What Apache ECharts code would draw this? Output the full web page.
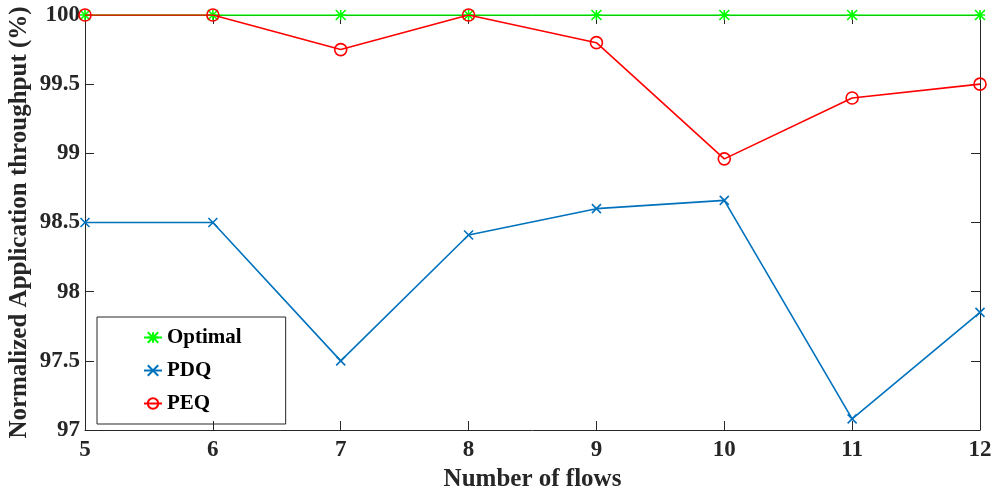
<!DOCTYPE html>
<html>
<head>
<meta charset="utf-8">
<script src="https://cdn.jsdelivr.net/npm/echarts@6/dist/echarts.min.js"></script>
<style>
html,body{margin:0;padding:0;background:#fff;}
#chart{width:995px;height:495px;}
</style>
</head>
<body>
<div id="chart"></div>
<script>
// Number of concurrent flows on the x axis
const flows = [5, 6, 7, 8, 9, 10, 11, 12];
// Normalized application throughput (%) per scheme
const optimal = [100, 100, 100, 100, 100, 100, 100, 100];
const pdq = [98.5, 98.5, 97.5, 98.41, 98.6, 98.66, 97.08, 97.85];
const peq = [100, 100, 99.75, 100, 99.8, 98.96, 99.4, 99.5];
const yTicks = [97, 97.5, 98, 98.5, 99, 99.5, 100];

const FONT = "'Liberation Serif', 'Times New Roman', serif";
const AXIS_COLOR = '#262626';

const pairs = vals => flows.map((f, i) => [f, vals[i]]);

const crossPath = 'path://M0,0L10,10M10,0L0,10';
const starPath = 'path://M0,0L10,10M10,0L0,10M5,0L5,10M0,5L10,5';

const chart = echarts.init(document.getElementById('chart'), null, {renderer: 'canvas'});

const strokeMarker = color => ({
  color: color,
  borderColor: color,
  borderWidth: 1.6
});

chart.setOption({
  animation: false,
  backgroundColor: '#fff',
  grid: {left: 85, right: 15, top: 15, bottom: 65, containLabel: false, outerBoundsMode: 'none'},
  legend: {
    orient: 'vertical',
    left: 97,
    top: 317,
    padding: [10, 44, 10, 46],
    itemGap: 12,
    itemWidth: 18,
    itemHeight: 13,
    borderColor: AXIS_COLOR,
    borderWidth: 1,
    textStyle: {fontFamily: FONT, fontWeight: 'bold', fontSize: 21, color: '#000'},
    data: ['Optimal', 'PDQ', 'PEQ']
  },
  xAxis: [{
    type: 'value', min: 5, max: 12, interval: 1,
    name: 'Number of flows', nameLocation: 'middle', nameGap: 36,
    nameTextStyle: {fontFamily: FONT, fontWeight: 'bold', fontSize: 25, color: '#262626'},
    axisLine: {lineStyle: {color: AXIS_COLOR, width: 1}},
    axisTick: {inside: true, length: 9, lineStyle: {color: AXIS_COLOR}},
    axisLabel: {fontFamily: FONT, fontWeight: 'bold', fontSize: 23, color: '#262626', margin: 9},
    splitLine: {show: false}
  }, {
    type: 'value', position: 'top', min: 5, max: 12, interval: 1,
    axisLine: {show: true, lineStyle: {color: AXIS_COLOR, width: 1}},
    axisTick: {inside: true, length: 9, lineStyle: {color: AXIS_COLOR}},
    axisLabel: {show: false},
    splitLine: {show: false}
  }],
  yAxis: [{
    type: 'value', min: 97, max: 100, interval: 0.5,
    name: 'Normalized Application throughput (%)', nameLocation: 'middle', nameGap: 53,
    nameMoveOverlap: false,
    nameTextStyle: {fontFamily: FONT, fontWeight: 'bold', fontSize: 25, color: '#262626'},
    axisLine: {show: true, lineStyle: {color: AXIS_COLOR, width: 1}},
    axisTick: {inside: true, length: 9, lineStyle: {color: AXIS_COLOR}},
    axisLabel: {
      fontFamily: FONT, fontWeight: 'bold', fontSize: 23, color: '#262626', margin: 5,
      formatter: v => String(yTicks.find(t => Math.abs(t - v) < 1e-9) ?? v)
    },
    splitLine: {show: false}
  }, {
    type: 'value', position: 'right', min: 97, max: 100, interval: 0.5,
    axisLine: {show: true, lineStyle: {color: AXIS_COLOR, width: 1}},
    axisTick: {inside: true, length: 9, lineStyle: {color: AXIS_COLOR}},
    axisLabel: {show: false},
    splitLine: {show: false}
  }],
  series: [{
    name: 'Optimal', type: 'line', data: pairs(optimal),
    symbol: starPath, symbolSize: 10,
    lineStyle: {color: '#00ff00', width: 1.6},
    itemStyle: strokeMarker('#00ff00'),
    z: 2
  }, {
    name: 'PDQ', type: 'line', data: pairs(pdq),
    symbol: crossPath, symbolSize: 9,
    lineStyle: {color: '#0072bd', width: 1.6},
    itemStyle: strokeMarker('#0072bd'),
    z: 3
  }, {
    name: 'PEQ', type: 'line', data: pairs(peq),
    symbol: 'circle', symbolSize: 12,
    lineStyle: {color: '#ff0000', width: 1.6},
    itemStyle: {color: 'rgba(0,0,0,0)', borderColor: '#ff0000', borderWidth: 1.6},
    z: 4
  }]
});
</script>
</body>
</html>
